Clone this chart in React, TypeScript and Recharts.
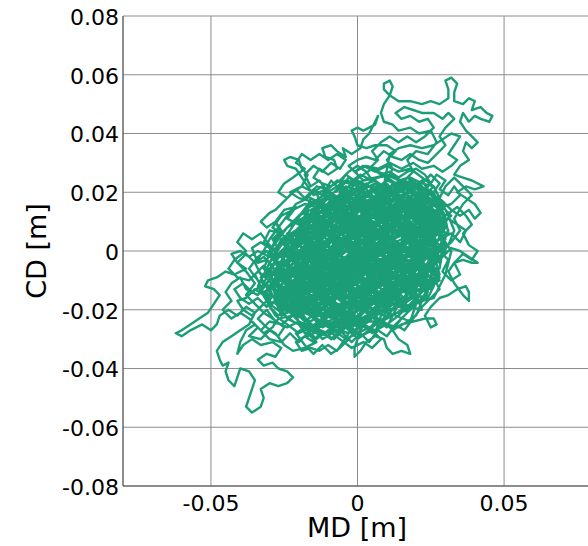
import React from 'react';
import { LineChart, Line, XAxis, YAxis, CartesianGrid, Label } from 'recharts';

// Axis ticks (m)
const xTicks = [-0.05, 0, 0.05];
const yTicks = [-0.08, -0.06, -0.04, -0.02, 0, 0.02, 0.04, 0.06, 0.08];

// Trajectory pieces, as [MD mm, CD mm], in path order
const core1 = [
  [0,0],[4,3],[9,1],[12,6],[8,10],[3,8],[-2,11],[-6,6],[-10,9],[-14,4],[-11,-1],[-16,-5],[-12,-9],[-7,-6],[-3,-10],[2,-7],[6,-11],[10,-6],[15,-9],[18,-3],
  [22,1],[19,6],[24,9],[21,14],[16,11],[13,16],[8,14],[5,18],[0,15],[-4,17],[-8,13],[-5,9],[-1,5],[3,2],[7,-2],[11,2],[15,4],[18,9],[14,13],[10,10],
  [6,6],[2,4],[-3,1],[-7,-2],[-12,-4],[-17,-1],[-21,-6],[-18,-11],[-22,-15],[-17,-19],[-13,-14],[-9,-18],[-5,-14],[-1,-17],[3,-13],[1,-9],[5,-5],[9,-9],[13,-13],[16,-8],
  [20,-5],[24,-2],[27,3],[25,8],[28,12],[24,16],[19,19],[15,22],[11,19],[7,22],[3,20],[-1,21],[-5,19],[-9,16],[-7,11],[-11,7],[-15,9],[-19,5],[-23,1],[-26,-4],
  [-24,-9],[-27,-13],[-25,-18],[-21,-22],[-16,-24],[-12,-21],[-7,-24],[-3,-21],[1,-24],[5,-20],[9,-22],[12,-17],[8,-14],[4,-16],[0,-12],[-4,-7],[-8,-3],[-4,2],[1,-2],[5,1],[10,4],
];

const core2 = [
  [14,7],[17,12],[20,17],[16,20],[12,23],[9,18],[12,14],[7,11],[4,13],[1,9],[-3,12],[-7,15],[-12,12],[-10,5],[-6,2],[-9,-7],[-14,-10],[-19,-8],[-23,-11],[-20,-16],
  [-14,-17],[-10,-13],[-6,-16],[-3,-12],[0,-5],[3,-1],[6,-4],[11,-2],[14,-5],[19,-8],[22,-4],[25,-1],[21,3],[17,0],[13,-1],[9,5],[13,9],[17,5],[21,7],[25,5],
  [29,9],[26,13],[22,11],[18,14],[21,19],[17,23],[13,20],[9,23],[5,21],[8,17],[4,11],[0,12],[-4,8],[-8,6],[-12,1],[-8,-1],[-5,-4],[-1,-8],[3,-10],[7,-7],
  [11,-11],[7,-15],[3,-18],[-1,-21],[-5,-18],[-9,-21],[-13,-25],[-17,-21],[-20,-19],[-24,-15],[-21,-10],[-16,-13],[-13,-8],[-9,-10],[-5,-9],[-1,-13],[4,-10],[8,-12],[12,-8],[16,-12],
  [19,-16],[15,-18],[11,-20],[7,-18],[3,-22],[-2,-25],[-6,-22],[-10,-24],[-14,-21],[-18,-24],[-22,-20],[-26,-22],[-28,-17],[-24,-13],[-20,-9],[-17,-3],[-13,-6],[-9,-2],[-5,-1],[-1,2],
  [2,6],[6,9],[10,7],[14,10],[18,6],[22,5],[26,6],[23,10],[19,12],[15,15],[11,12],[7,16],[3,15],[-1,17],[-5,14],[-3,10],[1,7],[5,4],[9,-1],[13,1],
  [17,3],[20,0],[23,-6],[19,-11],[15,-14],[11,-16],[8,-19],[4,-24],[0,-26],[-3,-23],[-7,-20],[-11,-17],[-15,-15],[-12,-11],[-8,-7],[-4,-4],[0,-2],[4,-5],[8,-3],[12,-4],
];

const excBottomRight = [
  [6,-24],[3,-28],[0,-30],[-1,-33],[-1,-36],[1,-34],[3,-31],[6,-29],[9,-30],[10,-33],[12,-35],[15,-34],[18,-35],[17,-32],[14,-30],[12,-27],[15,-25],[19,-24],[23,-23],[26,-23],
  [27,-25],[25,-26],[23,-22],[25,-19],[28,-16],[31,-15],[34,-13],[37,-12],[38,-14],[38,-17],[36,-15],[33,-11],[31,-7],[33,-4],[36,-3],[39,-4],[41,-4],[38,-2],[35,0],[32,1],
  [29,-2],[26,-5],[27,-9],[24,-12],[21,-15],[18,-18],[14,-22],[10,-25],[6,-27],[2,-25],
];

const beltBottom = [
  [-8,-26],[-10,-29],[-13,-28],[-15,-31],[-18,-29],[-21,-31],[-19,-34],[-16,-33],[-13,-34],[-10,-32],[-7,-34],[-5,-31],[-3,-28],[-6,-27],[-9,-30],
];

const core3 = [
  [-2,-24],[-6,-19],[-10,-15],[-15,-12],[-19,-14],[-23,-18],[-19,-22],[-15,-19],[-11,-23],[-7,-21],[-4,-16],[-8,-12],[-12,-7],[-16,-3],[-20,-1],[-24,-3],[-22,2],[-18,3],[-14,0],[-10,2],
  [-6,-1],[-2,-5],[2,-9],[6,-13],[10,-16],[14,-19],[17,-14],[13,-10],[10,-13],[6,-9],[2,-12],[-2,-15],[-6,-11],[-3,-7],[1,-4],[5,-7],[9,-4],[12,0],[8,3],[4,7],
  [0,10],[-4,13],[-8,10],[-12,14],[-16,11],[-13,7],[-17,6],[-20,2],[-16,-1],[-12,3],[-8,0],[-4,-3],[0,1],[4,-2],[8,-6],[12,-9],[16,-5],[20,-2],[24,2],[20,4],
  [16,7],[12,11],[8,8],[4,10],[0,6],[-4,5],[-8,3],[-11,-3],[-15,-7],[-18,-5],[-22,-8],[-25,-11],[-22,-13],[-18,-16],[-14,-23],[-10,-26],[-6,-24],[-2,-19],[2,-16],[6,-17],
  [10,-19],[13,-15],[16,-11],[19,-13],[22,-9],[25,-5],[28,0],[29,5],[26,10],[23,13],[19,16],[15,18],[11,21],[7,19],[3,17],[-1,14],[-5,11],[-9,8],[-13,11],[-10,14],
  [-6,17],[-2,18],[2,19],[6,22],[10,20],[14,22],[18,24],[22,20],[25,17],[28,15],[30,11],[31,6],[28,7],[25,11],[21,10],[17,8],[13,5],[9,2],[5,-1],[1,-6],
  [-3,-9],[-7,-13],[-11,-10],[-15,-13],[-19,-11],[-23,-7],[-27,-9],[-29,-12],[-26,-15],[-23,-21],[-19,-25],[-15,-27],[-11,-24],[-7,-27],[-3,-25],[1,-22],[5,-18],[9,-14],[13,-17],[17,-20],
  [20,-17],[22,-13],[25,-9],[22,-6],[18,-1],[15,2],[11,5],[7,3],[3,0],[-1,-3],[-5,-6],[-9,-5],[-13,-2],[-17,2],[-21,4],[-19,8],[-15,6],[-11,10],[-7,8],[-3,6],
  [1,3],[5,5],[9,7],[13,3],[17,1],[21,-3],[18,-6],[14,-2],[10,-8],[6,-5],[2,-3],[-2,-1],[-6,3],[-10,6],[-14,2],[-18,-2],[-22,-4],[-25,-7],[-21,-12],[-17,-9],
  [-13,-11],[-9,-14],[-5,-17],[-1,-19],[3,-15],[7,-11],[11,-7],[15,-3],[19,2],[23,4],[26,1],[24,-4],[20,-9],[17,-12],[12,-14],[8,-17],[4,-21],[0,-18],[-4,-22],[-8,-19],
  [-12,-15],[-16,-17],[-20,-20],[-24,-20],[-26,-16],[-23,-12],
];

const beltLeft = [
  [-25,-6],[-29,-8],[-32,-5],[-35,-8],[-33,-12],[-36,-14],[-39,-11],[-42,-13],[-40,-16],[-37,-18],[-34,-16],[-31,-19],[-29,-15],[-31,-11],[-28,-7],[-31,-3],[-34,-4],[-36,1],[-33,3],[-30,1],
  [-28,-3],[-25,-1],
];

const excLeft = [
  [-30,-2],[-34,0],[-37,-2],[-40,0],[-43,-1],[-41,-4],[-38,-6],[-42,-8],[-45,-7],[-48,-9],[-51,-10],[-52,-12],[-49,-13],[-47,-15],[-49,-18],[-51,-21],[-54,-23],[-57,-25],[-60,-27],[-62,-28],
  [-60,-29],[-57,-27],[-53,-25],[-50,-27],[-48,-25],[-47,-22],[-44,-20],[-41,-22],[-38,-19],[-35,-21],[-37,-25],[-40,-27],[-43,-29],[-46,-31],[-48,-34],[-47,-37],[-46,-39],[-44,-38],[-45,-41],[-44,-44],
  [-42,-46],[-41,-43],[-40,-40],[-37,-41],[-35,-44],[-36,-47],[-37,-50],[-38,-53],[-36,-55],[-33,-53],[-32,-50],[-33,-47],[-30,-45],[-27,-46],[-24,-45],[-22,-43],[-24,-41],[-27,-40],[-29,-38],[-32,-39],
  [-34,-37],[-31,-35],[-28,-36],[-26,-33],[-29,-31],[-33,-32],[-36,-30],[-39,-32],[-41,-35],[-40,-31],[-38,-27],[-35,-25],[-32,-28],[-29,-26],[-27,-23],
];

const core4 = [
  [-12,-20],[-2,-12],[-14,-4],[-4,4],[8,-4],[-3,-18],[10,-21],[4,-8],[16,-14],[10,0],[24,-6],[14,8],[27,6],[18,18],[6,12],[14,22],[2,16],[-8,18],[-4,6],[-16,8],
  [-8,-6],[-22,-2],[-16,-14],[-26,-12],[-18,-24],[-8,-16],[-12,-26],[0,-20],[-6,-8],[6,-16],[2,-2],[16,-6],[8,8],[22,2],[18,14],[28,10],[20,22],[10,14],[0,22],[2,8],
  [-10,12],[-6,0],[-18,4],[-10,-10],[-24,-6],[-14,-18],[-4,-26],[4,-14],[-4,-4],[8,-10],[12,4],[20,-12],[26,-2],[16,4],[24,14],[12,18],[4,4],[-6,10],[-14,16],[-12,2],
  [-20,-8],[-8,-20],[2,-24],[12,-12],[2,-6],[14,-2],[6,6],[18,10],[10,22],[-2,12],[8,0],[-2,-10],[-16,-8],[-26,-18],[-14,-26],[-6,-14],[6,-22],[16,-18],[20,-6],[30,4],
  [22,10],[26,18],[14,14],[20,4],[10,-6],[0,-14],[-10,-2],[-20,6],[-12,10],[0,14],[-6,20],[6,18],[14,10],[22,-4],[14,-14],[4,-18],[-6,-24],[-16,-20],[-24,-10],[-28,-4],
  [-18,-2],[-6,-12],[2,0],
];

const excTopLeft = [
  [-8,19],[-11,21],[-15,19],[-17,22],[-19,25],[-21,28],[-24,29],[-25,31],[-23,32],[-20,31],[-19,28],[-17,26],[-19,22],[-22,20],[-25,17],[-28,14],[-30,13],[-33,10],[-31,8],[-28,10],
  [-26,7],[-29,4],[-27,1],[-24,4],[-21,7],[-18,10],[-15,14],[-12,17],
];

const beltTop = [
  [-3,20],[-6,23],[-4,26],[-1,24],[2,26],[5,28],[8,26],[11,27],[14,25],[17,27],[20,28],[23,26],[25,23],[27,26],[30,24],[28,21],[31,19],[33,22],[35,19],[32,16],
  [29,15],
];

const excTopRight = [
  [16,24],[19,27],[17,31],[20,34],[24,33],[27,37],[25,41],[21,40],[18,42],[14,41],[12,43],[9,44],[8,47],[9,50],[11,53],[9,55],[9,57],[11,58],[12,56],[11,53],
  [14,51],[18,51],[22,50],[25,51],[28,50],[31,52],[31,55],[30,58],[32,59],[34,57],[33,54],[33,51],[36,50],[38,52],[40,51],[39,48],[42,49],[44,47],[46,46],[45,44],
  [42,45],[40,46],[38,44],[36,47],[35,44],[37,41],[39,39],[41,37],[39,35],[37,37],[36,34],[38,31],[35,29],[33,26],[36,25],[39,24],[43,22],[40,21],[37,22],[34,20],
  [37,18],[40,16],[42,13],[40,11],[38,14],[35,12],[32,14],[29,17],[26,19],[23,21],[20,24],[18,21],
];

const excTopCenter = [
  [10,24],[12,28],[10,31],[13,34],[10,36],[6,36],[3,35],[0,36],[-1,39],[-2,41],[0,42],[2,41],[4,42],[6,43],[7,46],[6,44],[4,40],[2,38],[1,35],[-2,33],
  [-5,35],[-4,32],[-7,34],[-9,36],[-12,35],[-11,32],[-8,31],[-7,28],[-10,26],[-13,28],[-15,25],[-12,23],[-9,22],[-6,24],[-3,27],[0,29],[3,27],[5,24],[2,22],
];

const core5 = [
  [6,-4],[-4,-14],[-16,-10],[-10,0],[0,-8],[10,-14],[18,-8],[12,-20],[0,-16],[-12,-16],[-22,-16],[-18,-6],[-26,0],[-14,-2],[-2,2],[-12,6],[-2,16],[10,10],[4,20],[16,20],
  [24,12],[18,2],[28,-4],[24,6],[16,-2],[6,2],[-4,10],[-10,18],[-18,10],[-24,2],[-28,-10],[-20,-18],[-10,-22],[0,-28],[8,-18],[-2,-14],[-10,-6],[-2,-2],[12,-8],[20,-16],
  [14,-4],[4,-10],[-6,-20],[-18,-12],[-8,-8],[4,2],[16,0],[26,-8],[22,4],[30,8],[20,16],[8,18],[-4,14],[0,4],[10,-2],[20,8],[12,14],[2,10],[-8,4],[-20,0],
  [-12,-12],[-2,-20],[10,-10],[4,-2],[-6,6],[-14,12],[-8,16],[4,14],[16,16],[26,14],[22,-2],[12,-2],[0,-4],[-12,-8],[-24,-14],[-14,-22],[-4,-18],[6,-12],[14,-10],[24,0],
  [18,6],[8,4],[-2,8],[-10,14],[-4,18],[8,16],[18,20],[28,16],[24,8],[12,6],[2,-6],[-8,-14],[-18,-18],[-28,-14],[-22,-6],[-10,-4],[0,-10],[10,-18],[18,-12],[8,-6],
];

const beltRight = [
  [28,4],[32,6],[35,3],[37,7],[34,9],[31,11],[28,8],
];

const core6 = [
  [22,12],[14,18],[6,14],[-2,20],[-8,12],[-16,14],[-12,4],[-20,-2],[-28,-6],[-22,-14],[-30,-18],[-22,-24],[-14,-28],[-10,-20],[-2,-28],[4,-22],[10,-26],[14,-18],[22,-20],[18,-10],
  [26,-12],[24,-2],[30,2],[26,8],[32,12],[24,20],[16,24],[8,20],[0,24],[-6,16],[-14,20],[-10,8],[-18,8],[-24,0],[-30,-10],[-26,-20],[-18,-14],[-10,-18],[-6,-10],[2,-16],
  [8,-10],[16,-16],[20,-8],[12,-4],[4,-8],[-4,-2],[-12,-6],[-20,-10],[-14,-14],[-6,-4],[2,4],[10,0],[18,-2],[26,4],[20,12],[12,10],[4,16],[-4,10],[-12,12],[-8,2],
  [0,-2],[8,2],[16,6],[24,10],[30,16],[22,18],[14,14],[6,8],[-2,4],[-10,-2],[-18,-6],[-26,-10],[-32,-14],[-24,-18],[-16,-22],[-8,-26],[0,-22],[8,-16],[16,-10],[24,-6],
  [28,-10],[22,-14],[14,-12],[6,-18],[-2,-12],[-10,-8],[-18,0],[-24,6],[-16,4],[-8,8],[0,10],[8,14],[16,12],[24,16],[18,22],[10,24],[2,18],[-6,22],[-12,16],[-20,12],
  [-26,2],[-30,-4],[-34,-12],[-28,-22],[-20,-28],[-12,-24],[-4,-30],[4,-26],[12,-22],[18,-18],[26,-16],[30,-8],[32,0],[28,6],[20,2],[12,-8],[4,-12],[-4,-16],[-12,-12],[-20,-16],
  [-28,-12],[-22,-4],[-14,-8],[-6,-14],[2,-10],[10,-4],[18,4],[26,0],[30,10],[26,20],[18,16],[10,18],[2,12],[-6,6],[-14,2],[-22,4],[-28,-2],[-20,-20],[-12,-30],[-2,-24],
  [6,-24],[14,-26],[20,-22],[24,-12],[18,-14],[10,-12],[2,-18],[-6,-18],[-14,-18],[-22,-10],[-16,-6],[-8,-2],[0,2],[8,6],[14,2],[22,6],[28,14],[20,20],[12,22],[4,22],
  [-4,24],[-10,20],[-16,16],[-22,10],[-28,4],[-32,-6],[-26,-14],[-18,-20],[-10,-14],[-2,-6],[6,0],[14,-6],[22,-10],[28,-2],[24,4],[16,8],[8,10],[0,14],[-8,16],[-14,10],
  [-20,6],[-24,-6],[-18,-12],[-10,-10],[-2,-16],[6,-20],[12,-14],[20,-12],[14,-8],[6,-6],[-2,0],[-10,4],[-6,12],[2,8],[10,4],
];

const beltUpperLeft = [
  [-10,20],[-13,24],[-16,22],[-18,26],[-15,29],[-12,27],[-9,30],[-6,28],[-4,31],[-7,33],[-10,31],[-13,33],[-16,31],[-19,33],[-21,30],[-18,28],[-22,25],[-25,23],[-27,20],[-24,18],
  [-21,21],[-18,18],[-15,21],[-12,19],[-9,24],[-6,21],[-3,25],[0,23],
];

const core7 = [
  [6,-2],[9,-6],[13,-3],[16,-7],[20,-4],[23,-8],[26,-5],[28,-9],[25,-13],[21,-11],[18,-15],[14,-13],[11,-17],[7,-14],[4,-18],[0,-15],[-3,-19],[-7,-16],[-11,-19],[-14,-15],
  [-18,-17],[-21,-13],[-25,-15],[-28,-11],[-31,-8],[-28,-4],[-24,-7],[-21,-3],[-17,-6],[-14,-2],[-10,-5],[-7,-1],[-3,-4],[0,0],[3,-3],[7,1],[10,-2],[14,2],[17,-1],[21,2],
  [24,-1],[27,3],[30,6],[27,10],[24,7],[20,10],[17,6],[13,9],[10,5],[6,8],[3,4],[-1,7],[-4,3],[-8,6],[-11,2],[-15,5],[-18,1],[-22,-1],[-25,2],[-22,6],
  [-18,5],[-15,9],[-11,7],[-8,11],[-4,8],[-1,12],[3,9],[6,13],[10,10],[13,14],[17,11],[20,15],[24,13],[27,17],[24,21],[20,19],[17,22],[13,19],[10,23],[6,20],
  [3,23],[-1,20],[-4,17],[-8,19],[-11,15],[-15,17],[-18,13],[-14,11],[-10,12],[-6,14],[-3,11],[1,14],[4,11],[8,15],[11,12],[15,15],[18,12],[22,13],[25,9],[29,11],
  [31,7],[29,2],[26,-1],[22,-3],[19,-7],[15,-4],[12,-8],[8,-5],[5,-9],[1,-6],[-2,-10],[-6,-7],[-9,-11],[-13,-8],[-16,-12],[-20,-9],[-23,-12],[-26,-17],[-23,-20],[-19,-22],
  [-16,-26],[-12,-23],[-9,-27],[-5,-24],[-2,-28],[2,-25],[5,-28],[9,-24],[12,-27],[15,-23],[18,-20],[15,-16],[11,-19],[8,-15],[4,-12],[1,-9],[-3,-13],[-6,-9],[-10,-12],[-13,-9],
  [-17,-13],[-20,-17],[-24,-19],[-27,-22],[-30,-19],[-32,-15],[-29,-12],[-26,-9],[-22,-6],[-19,-2],[-15,1],[-12,-3],[-8,1],[-5,-3],[-1,1],[2,-2],[6,2],[9,-1],[13,-5],[16,-2],
  [19,1],[22,-2],[25,2],[22,5],[19,8],[15,5],[12,8],[8,4],[5,7],[1,3],[-2,6],[-6,2],[-9,5],[-13,1],[-16,4],[-20,0],[-23,3],[-26,-1],[-29,-5],[-33,-9],
  [-30,-14],[-27,-18],[-24,-23],[-20,-25],[-17,-29],[-13,-27],[-9,-30],[-6,-27],[-2,-31],[1,-28],[4,-31],[7,-27],[10,-29],[13,-25],[16,-27],[19,-23],[22,-19],[25,-16],[28,-13],[26,-9],
  [23,-12],[20,-9],[17,-11],[14,-8],[10,-10],[7,-7],[3,-6],[0,-3],[-4,-6],[-7,-3],[-11,-6],[-14,-4],[-17,-8],[-21,-5],[-24,-9],[-21,-14],[-17,-16],[-13,-20],[-9,-17],[-6,-21],
  [-2,-18],[2,-21],[5,-16],[9,-19],[12,-15],[16,-18],[19,-14],[22,-10],[25,-6],[28,-2],[31,2],[33,7],[31,12],[29,16],[25,19],[21,22],[17,25],[13,23],[9,26],[5,24],
  [1,26],[-3,23],[-7,24],[-10,21],[-14,22],[-17,18],[-21,16],[-24,12],[-27,8],[-30,4],[-32,0],[-35,-4],[-33,-8],
];

const beltLowerLeft = [
  [-30,-10],[-34,-15],[-38,-13],[-40,-9],[-43,-11],[-45,-14],[-43,-17],[-46,-20],[-43,-23],[-40,-21],[-37,-23],[-34,-26],[-37,-29],[-33,-30],[-30,-27],[-27,-29],[-25,-26],[-29,-23],[-32,-21],[-35,-18],
  [-38,-15],[-35,-11],[-38,-7],[-41,-4],[-38,-1],[-35,-4],[-32,-2],[-29,-5],
];

const core8 = [
  [-28,-8],[-18,-18],[-8,-26],[-4,-14],[-16,-4],[-6,6],[6,-2],[14,-14],[24,-10],[16,2],[26,8],[18,18],[8,10],[-2,18],[-12,8],[-22,0],[-30,-12],[-20,-22],[-10,-16],[0,-26],
  [8,-20],[18,-24],[22,-12],[28,2],[20,8],[10,14],[2,22],[-8,14],[-16,18],[-20,6],[-26,-4],[-16,-12],[-6,-20],[4,-16],[12,-20],[20,-14],[12,-4],[2,-8],[-8,-4],[-18,-8],
  [-26,-16],[-14,-22],[-4,-22],[6,-28],[10,-16],[18,-6],[28,-6],[30,6],[22,16],[12,20],[4,14],[-6,18],[-14,14],[-24,8],[-30,0],[-24,-12],[-14,-16],[-4,-10],[6,-14],[16,-20],
  [24,-16],[20,-4],[10,-8],[0,-4],[-10,0],[-20,4],[-12,16],[-2,14],[8,18],[18,22],[26,12],[20,4],[12,8],[4,2],[-4,8],[-14,6],[-22,-6],[-12,-10],[-2,-2],[10,2],
  [20,-2],[26,-8],[16,-12],[6,-10],[-4,-18],[-16,-26],[-8,-30],[2,-20],[12,-26],[20,-18],[14,-6],[4,4],[-6,2],[-16,-2],[-24,-8],[-32,-8],[-26,4],[-16,10],[-6,8],[4,10],
  [14,6],[24,2],[30,12],[22,24],[14,18],[6,24],[-4,20],[-10,10],[-18,-4],[-10,-22],[-2,-26],[6,-16],[14,-10],[22,-16],[28,-8],[24,6],[16,14],[8,6],[0,8],[-8,2],
  [-14,-8],[-22,-18],[-28,-14],
];

const beltRightMore = [
  [30,12],[34,15],[37,12],[39,9],[36,6],[38,2],[41,0],[39,-3],[36,-1],[33,-4],[35,-8],[32,-10],[29,-7],[31,-3],[28,0],[32,3],[35,7],[33,11],[36,16],[39,19],
  [36,22],[33,25],[30,22],[28,18],
];

const beltUpperRight = [
  [26,22],[22,25],[18,28],[14,27],[10,29],[6,27],[2,29],[-1,27],[2,24],[6,25],[10,26],[14,24],[18,25],[22,23],[25,26],[28,23],[26,20],
];

const beltTopMore = [
  [4,28],[7,31],[5,34],[8,37],[11,39],[14,37],[17,39],[20,37],[23,39],[26,42],[24,45],[21,44],[18,46],[15,45],[13,47],[16,49],[19,48],[22,47],[26,47],[29,45],
  [31,47],[33,45],[30,42],[28,39],[30,36],[27,33],[24,30],[21,31],[18,33],[15,31],[12,32],[9,34],[6,31],[3,32],[0,31],[-3,29],[-1,27],[3,29],[7,28],[11,30],
  [15,28],[19,30],[22,28],[26,29],[29,27],[32,29],[34,31],[31,33],[33,36],[35,39],[32,40],[29,38],[26,36],[22,35],[18,36],[14,35],[11,33],
];

const beltBottomMore = [
  [0,-26],[-3,-30],[-6,-33],[-9,-35],[-12,-32],[-15,-35],[-18,-32],[-21,-28],[-18,-26],[-14,-30],[-10,-27],[-6,-30],[-2,-33],[2,-31],[5,-33],[8,-30],[5,-27],[1,-29],
];

const beltLeftMore = [
  [-26,-2],[-30,2],[-33,6],[-36,4],[-39,6],[-41,3],[-38,0],[-42,-3],[-44,-6],[-41,-9],[-37,-10],[-34,-7],[-31,-9],[-33,-13],[-30,-16],[-33,-19],[-36,-22],[-39,-20],[-41,-17],[-38,-16],
  [-35,-13],[-32,-15],[-29,-18],[-27,-15],[-30,-12],[-34,-10],[-37,-6],[-34,-2],[-31,0],[-28,-4],
];

const core9 = [
  [-20,-10],[-10,-18],[-2,-8],[-12,0],[-4,12],[6,4],[16,10],[8,20],[20,16],[28,6],[18,0],[8,-8],[-2,-22],[-12,-14],[-22,-20],[-14,-10],[-24,-2],[-16,6],[-6,14],[4,8],
  [14,16],[24,22],[20,10],[28,0],[22,-8],[12,-16],[2,-12],[-8,-24],[-18,-28],[-24,-16],[-30,-8],[-20,0],[-10,10],[0,18],[10,12],[20,20],[16,4],[26,-4],[18,-14],[8,-24],
  [-2,-18],[-12,-22],[-20,-14],[-10,-6],[0,-16],[10,-10],[20,-6],[12,2],[2,-4],[-8,-12],[-18,-16],[-28,-18],[-22,-8],[-12,-4],[-2,6],[8,14],[18,8],[26,16],[16,22],[6,18],
  [-4,22],[-12,12],[-20,10],[-14,0],[-4,-6],[6,-12],[16,-8],[24,-14],[18,-20],[10,-22],[0,-30],[-6,-22],[-16,-18],[-26,-10],[-18,-4],[-8,4],[2,12],[12,6],[22,12],[30,8],
  [24,-2],[14,-4],[4,0],[-6,-8],[-16,-12],[-10,-26],[0,-22],[8,-14],[16,-18],[22,-10],[26,2],[20,6],[10,8],[0,2],[-10,6],[-18,14],[-8,20],[2,24],[12,26],[22,18],
  [14,10],[4,16],[-6,10],[-16,2],[-26,-6],[-30,-14],[-20,-24],[-10,-28],[-4,-16],[6,-20],[14,-12],[24,-6],[30,0],[26,10],[16,16],[6,10],[-4,4],[-14,-6],[-24,-12],[-16,-20],
  [-6,-12],[4,-6],[14,0],[24,4],[18,14],[8,22],[-2,16],[-10,2],[-20,-6],[-12,-16],[-2,-26],[10,-18],[18,-10],[10,-2],[0,-10],[-10,-14],[-22,-12],[-14,4],[-4,10],[6,6],
  [16,12],[26,8],[20,-2],[10,-14],[0,-18],[-10,-10],[-20,-4],
];

const core10 = [
  [-18,-8],[-14,-12],[-9,-9],[-5,-13],[-1,-9],[3,-12],[7,-8],[11,-12],[15,-9],[19,-12],[23,-9],[26,-12],[24,-16],[20,-15],[16,-18],[12,-15],[8,-19],[4,-16],[0,-20],[-4,-17],
  [-8,-21],[-12,-18],[-16,-21],[-20,-18],[-24,-21],[-27,-17],[-24,-13],[-20,-14],[-16,-10],[-12,-13],[-8,-10],[-4,-6],[0,-9],[4,-5],[8,-9],[12,-5],[16,-8],[20,-4],[24,-7],[27,-3],
  [24,1],[20,-1],[16,2],[12,-1],[8,3],[4,0],[0,4],[-4,1],[-8,4],[-12,0],[-16,3],[-20,-1],[-24,2],[-27,-2],[-30,-6],[-27,-10],[-23,-8],[-19,-5],[-15,-1],[-11,3],
  [-7,7],[-3,4],[1,8],[5,5],[9,9],[13,6],[17,9],[21,6],[25,9],[28,13],[24,15],[20,12],[16,15],[12,12],[8,16],[4,13],[0,17],[-4,14],[-8,17],[-12,14],
  [-9,10],[-5,12],[-1,10],[3,14],[7,18],[11,16],[15,19],[19,17],[23,19],[26,22],[22,23],[18,21],[14,23],[10,21],[6,23],[2,21],[-2,23],[-6,19],[-2,15],[2,18],
  [6,15],[10,13],[14,16],[18,14],[22,16],[26,18],[29,14],[27,9],[23,11],[19,9],[15,11],[11,8],[7,11],[3,7],[-1,4],[-5,7],[-9,3],[-13,6],[-17,2],[-21,5],
  [-19,9],[-15,11],[-11,9],[-7,11],
];

const beltUpperLeft2 = [
  [-12,8],[-16,12],[-20,9],[-24,11],[-21,15],[-25,14],[-28,10],[-26,6],[-30,7],[-32,3],[-29,0],[-26,3],[-23,7],[-19,13],[-16,17],[-20,18],[-23,20],[-19,22],[-15,20],[-12,22],
  [-10,18],[-14,15],[-18,16],[-22,14],[-26,12],[-29,8],[-25,5],[-21,2],[-17,7],[-13,4],[-10,8],[-14,10],
];

const beltLowerLeft2 = [
  [-22,-22],[-26,-25],[-30,-24],[-33,-27],[-30,-30],[-26,-31],[-23,-28],[-20,-31],[-17,-28],[-14,-31],[-18,-33],[-22,-34],[-25,-32],[-28,-28],[-31,-26],[-34,-23],[-31,-20],[-28,-24],[-24,-26],[-20,-24],
];

const track = [
  ...core1, ...core2, ...excBottomRight, ...beltBottom, ...core3, ...beltLeft, ...excLeft,
  ...core4, ...excTopLeft, ...beltTop, ...excTopRight, ...excTopCenter, ...core5, ...beltRight,
  ...core6, ...beltUpperLeft, ...core7, ...beltLowerLeft, ...core8, ...beltRightMore,
  ...beltUpperRight, ...beltTopMore, ...beltBottomMore, ...beltLeftMore, ...core9, ...core10,
  ...beltUpperLeft2, ...beltLowerLeft2,
];

const data = track.map(([md, cd]) => ({ md: md / 1000, cd: cd / 1000 }));

const fmt = (v: number) => (v === 0 ? '0' : String(Number(v.toFixed(2))));

const FONT = 'DejaVu Sans';

export default function App() {
  return (
    <div style={{ position: 'absolute', left: 0, top: 0 }}>
      <LineChart
        width={588}
        height={546}
        data={data}
        margin={{ top: 16, right: -4, bottom: 30, left: 63 }}
      >
        <CartesianGrid stroke="#8c8c8c" strokeWidth={1} />
        <XAxis
          type="number"
          dataKey="md"
          domain={[-0.08, 0.08]}
          ticks={xTicks}
          allowDataOverflow
          interval={0}
          height={30}
          tickSize={0}
          tickMargin={9}
          tickFormatter={fmt}
          tick={{ fontSize: 22, fill: '#000', fontFamily: FONT }}
          stroke="#555"
        >
          <Label
            content={() => (
              <text x={357} y={537} textAnchor="middle" fontSize={27} fontFamily={FONT} fill="#000">
                MD [m]
              </text>
            )}
          />
        </XAxis>
        <YAxis
          type="number"
          dataKey="cd"
          domain={[-0.08, 0.08]}
          ticks={yTicks}
          allowDataOverflow
          interval={0}
          width={60}
          tickSize={0}
          tickMargin={4}
          tickFormatter={fmt}
          tick={{ fontSize: 22, fill: '#000', fontFamily: FONT, dy: 1 }}
          stroke="#555"
        >
          <Label
            content={() => (
              <text
                x={45.5}
                y={251}
                transform="rotate(-90, 45.5, 251)"
                textAnchor="middle"
                fontSize={27}
                fontFamily={FONT}
                fill="#000"
              >
                CD [m]
              </text>
            )}
          />
        </YAxis>
        <Line
          type="linear"
          dataKey="cd"
          stroke="#1b9e77"
          strokeWidth={2.4}
          dot={false}
          isAnimationActive={false}
          strokeLinejoin="round"
        />
      </LineChart>
    </div>
  );
}
